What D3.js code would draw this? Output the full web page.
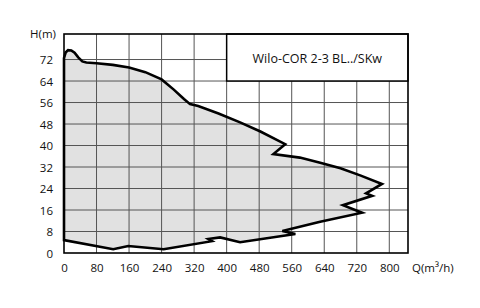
<!DOCTYPE html>
<html>
<head>
<meta charset="utf-8">
<script src="https://cdn.jsdelivr.net/npm/d3@7"></script>
<style>
html,body{margin:0;padding:0;background:#fff;}
svg{display:block;}
text{font-family:"Open Sans",sans-serif;fill:#111;}
</style>
</head>
<body>
<svg id="chart" width="480" height="308"></svg>
<script>
// Envelope of the pump performance field (clockwise from the top-left)
const qValues = [0, 4, 10, 18, 26, 35, 45, 55, 80, 120, 160, 200, 240, 270, 295, 310, 330, 380, 433, 483, 544, 515, 580, 630, 680, 730, 782, 743, 758, 686, 733, 630, 537, 569, 433, 384, 355, 364, 245, 158, 121, 0];
const hValues = [72.5, 74.6, 75.5, 75.4, 74.5, 72.8, 71.3, 70.9, 70.6, 70.0, 69.0, 67.3, 64.6, 60.8, 57.3, 55.4, 54.7, 51.9, 48.6, 45.2, 40.5, 36.8, 35.5, 33.6, 31.5, 28.8, 25.7, 22.2, 21.3, 17.8, 15.0, 11.6, 8.2, 7.1, 4.0, 5.8, 5.2, 4.4, 1.4, 2.6, 1.4, 4.8];
const xTicks = [0, 80, 160, 240, 320, 400, 480, 560, 640, 720, 800];
const yTicks = [0, 8, 16, 24, 32, 40, 48, 56, 64, 72];
const xLabel = "Q(m³/h)";
const yLabel = "H(m)";
const legendText = "Wilo-COR 2-3 BL../SKw";
const legendBox = {q0: 400, h0: 64};
const xMax = 846, yMax = 81.5;

const svg = d3.select("#chart");
const pL = 64, pR = 408, pT = 34, pB = 253;
const x = d3.scaleLinear().domain([0, xMax]).range([pL, pR]);
const y = d3.scaleLinear().domain([0, yMax]).range([pB, pT]);

// filled envelope
const pts = qValues.map((q, i) => [q, hValues[i]]);
const line = d3.line().x(d => x(d[0])).y(d => y(d[1]));
svg.append("path").attr("d", line(pts) + "Z").attr("fill", "#e1e1e1").attr("stroke", "none");

// grid
const g = svg.append("g");
g.selectAll(".vx").data(xTicks.filter(t => t > 0)).enter().append("line")
  .attr("x1", d => x(d)).attr("x2", d => x(d)).attr("y1", pT).attr("y2", pB)
  .attr("stroke", "#555").attr("stroke-width", 1);
g.selectAll(".hy").data(yTicks.filter(t => t > 0)).enter().append("line")
  .attr("x1", pL).attr("x2", pR).attr("y1", d => y(d)).attr("y2", d => y(d))
  .attr("stroke", "#555").attr("stroke-width", 1);

// envelope outline
svg.append("path").attr("d", line(pts) + "Z").attr("fill", "none")
  .attr("stroke", "#000").attr("stroke-width", 2.6).attr("stroke-linejoin", "miter");

// legend box
svg.append("rect").attr("x", x(legendBox.q0)).attr("y", pT)
  .attr("width", pR - x(legendBox.q0)).attr("height", y(legendBox.h0) - pT)
  .attr("fill", "#fff").attr("stroke", "#000").attr("stroke-width", 1.5);
svg.append("text").attr("x", (x(legendBox.q0) + pR) / 2).attr("y", 63)
  .attr("text-anchor", "middle").attr("font-size", 12.5).text(legendText);

// frame
svg.append("rect").attr("x", pL).attr("y", pT).attr("width", pR - pL).attr("height", pB - pT)
  .attr("fill", "none").attr("stroke", "#000").attr("stroke-width", 1.6);

// axes
const xAxis = d3.axisBottom(x).tickValues(xTicks).tickSize(0).tickPadding(0).tickFormat(d3.format("d"));
const xa = svg.append("g").attr("transform", `translate(0,${pB})`).call(xAxis);
xa.select(".domain").remove();
xa.selectAll("text").attr("font-size", 11.5).attr("dy", null).attr("y", 18.5).attr("font-family", "Open Sans");

const yAxis = d3.axisLeft(y).tickValues(yTicks).tickSize(0).tickPadding(0).tickFormat(d3.format("d"));
const ya = svg.append("g").attr("transform", `translate(53,0)`).call(yAxis);
ya.select(".domain").remove();
ya.selectAll("text").attr("font-size", 11.5).attr("x", 0).attr("dy", "0.36em").attr("font-family", "Open Sans");

svg.append("text").attr("x", 56).attr("y", 37.5).attr("text-anchor", "end").attr("font-size", 11.5).text(yLabel);
svg.append("text").attr("x", 412).attr("y", 271.5).attr("font-size", 11.5).text(xLabel);
</script>
</body>
</html>
